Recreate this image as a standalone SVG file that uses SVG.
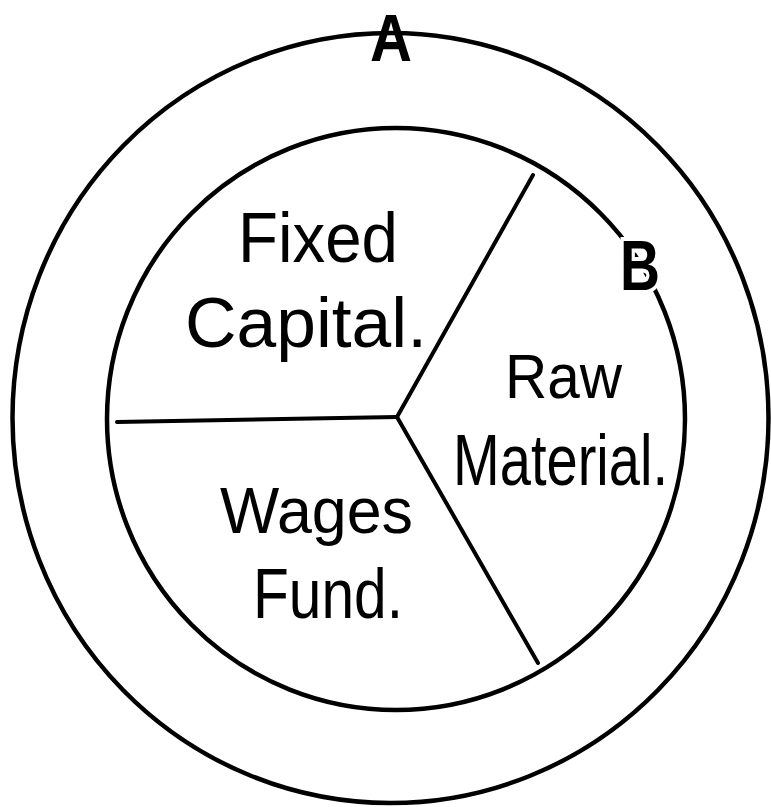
<svg xmlns="http://www.w3.org/2000/svg" width="771" height="807" viewBox="0 0 771 807">
<style>
.ring{fill:none;stroke:#000;stroke-width:4.5}
.div{stroke:#000;stroke-width:4;stroke-linecap:round;fill:none}
.lbl{font-family:"Liberation Sans",Arial,sans-serif;font-size:70px;fill:#000}
.tag{font-family:"Liberation Sans",Arial,sans-serif;font-weight:bold;font-size:70px;fill:#000}
</style>
<rect width="771" height="807" fill="#fff"/>
<g id="outer-circle">
<ellipse class="ring" cx="390.5" cy="418" rx="378" ry="385"/>
</g>
<g id="inner-circle">
<ellipse class="ring" cx="396" cy="419" rx="289" ry="291"/>
</g>
<g id="connectors">
<line class="div" x1="397" y1="417" x2="117" y2="422"/>
<line class="div" x1="397" y1="417" x2="533" y2="175"/>
<line class="div" x1="397" y1="417" x2="538" y2="663"/>
</g>
<g id="label-A">
<text class="tag" x="370" y="61" textLength="42" lengthAdjust="spacingAndGlyphs" style="font-size:66px">A</text>
</g>
<g id="label-B">
<text class="tag" x="620" y="290" textLength="40" lengthAdjust="spacingAndGlyphs" stroke="#fff" stroke-width="8" paint-order="stroke">B</text>
</g>
<g id="fixed-capital">
<text class="lbl" x="238" y="262" textLength="160" lengthAdjust="spacingAndGlyphs">Fixed</text>
<text class="lbl" x="185" y="347" textLength="242" lengthAdjust="spacingAndGlyphs">Capital.</text>
</g>
<g id="raw-material">
<text class="lbl" x="505" y="398" textLength="117" lengthAdjust="spacingAndGlyphs" style="font-size:63px">Raw</text>
<text class="lbl" x="453" y="485" textLength="215" lengthAdjust="spacingAndGlyphs" style="font-size:72px">Material.</text>
</g>
<g id="wages-fund">
<text class="lbl" x="220" y="533" textLength="193" lengthAdjust="spacingAndGlyphs" style="font-size:64px">Wages</text>
<text class="lbl" x="253" y="618" textLength="150" lengthAdjust="spacingAndGlyphs">Fund.</text>
</g>
</svg>
